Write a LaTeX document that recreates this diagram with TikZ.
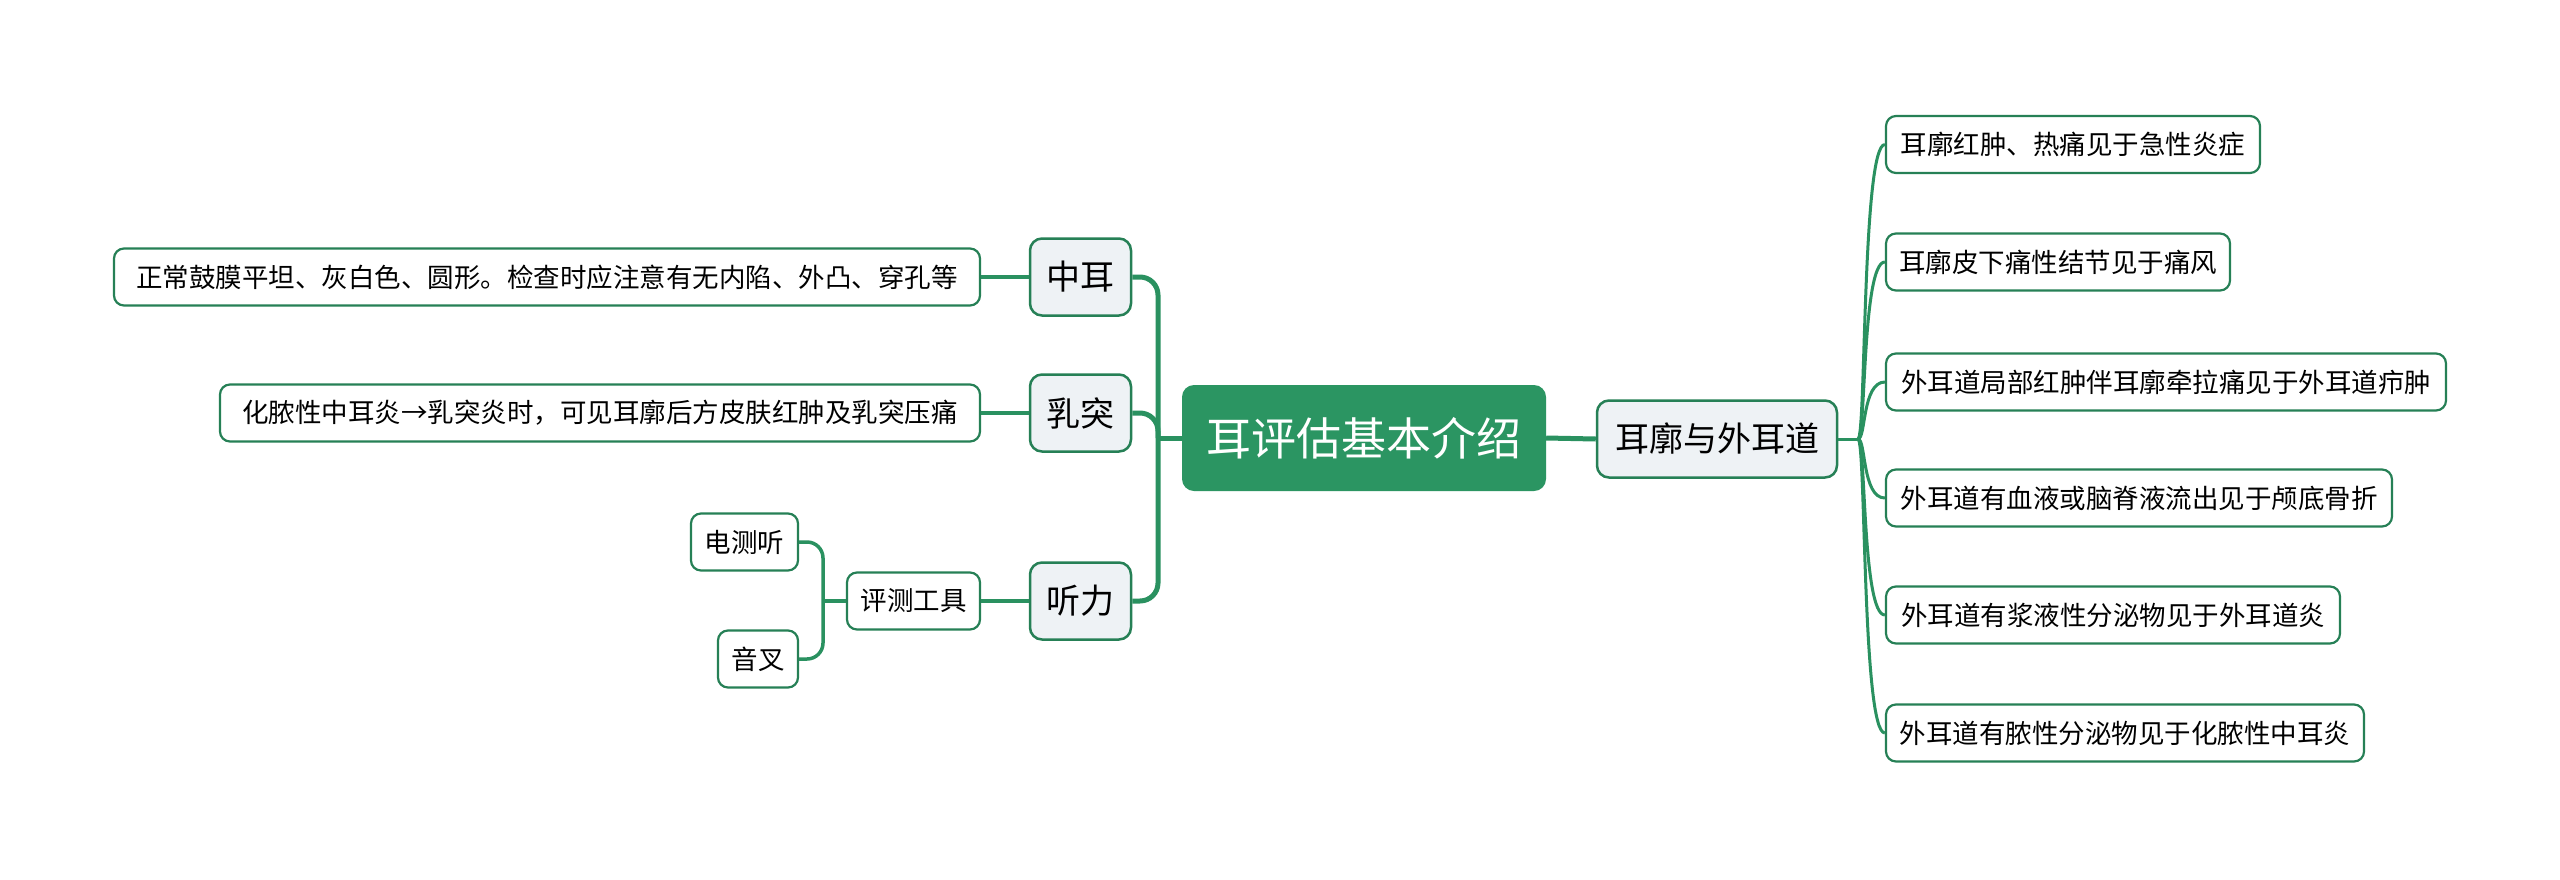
\documentclass[tikz,border=0pt]{standalone}
\usepackage{fontspec}
\usetikzlibrary{calc}
\setmainfont{Noto Sans CJK SC}
\definecolor{rootgreen}{RGB}{43,149,98}
\definecolor{bordergreen}{RGB}{38,128,86}
\definecolor{linegreen}{RGB}{42,145,96}
\definecolor{lonefill}{RGB}{238,242,245}
\begin{document}
\begin{tikzpicture}[x=1pt,y=-1pt,
  rootbox/.style={fill=rootgreen,draw=none,rounded corners=12,text=white,inner sep=0,
    font=\fontsize{45}{52}\selectfont,minimum width=364,minimum height=106},
  lonebox/.style={fill=lonefill,draw=bordergreen,line width=2.5,rounded corners=12,inner sep=0,
    font=\fontsize{34}{40}\selectfont,minimum height=77},
  leafbox/.style={fill=white,draw=bordergreen,line width=2.2,rounded corners=10,inner sep=0,
    font=\fontsize{26.5}{32}\selectfont,minimum height=57},
  trunk/.style={draw=linegreen,line width=5,rounded corners=18},
  twig/.style={draw=linegreen,line width=3.5,rounded corners=16},
  curvy/.style={draw=linegreen,line width=3}]
\useasboundingbox (0,0) rectangle (2560,879);
\fill[white] (0,0) rectangle (2560,879);

% root
\node[rootbox] (root) at (1364,438) {耳评估基本介绍};

% right branch
\node[lonebox,minimum width=240] (ear) at (1717,439) {耳廓与外耳道};
\node[leafbox,minimum width=374] (r1) at (2073,144.5) {耳廓红肿、热痛见于急性炎症};
\node[leafbox,minimum width=344] (r2) at (2058,262) {耳廓皮下痛性结节见于痛风};
\node[leafbox,minimum width=560] (r3) at (2166,382) {外耳道局部红肿伴耳廓牵拉痛见于外耳道疖肿};
\node[leafbox,minimum width=506] (r4) at (2139,498) {外耳道有血液或脑脊液流出见于颅底骨折};
\node[leafbox,minimum width=454] (r5) at (2113,615) {外耳道有浆液性分泌物见于外耳道炎};
\node[leafbox,minimum width=478] (r6) at (2125,733) {外耳道有脓性分泌物见于化脓性中耳炎};

% left branch
\node[lonebox,minimum width=101] (mid) at (1080.5,277) {中耳};
\node[lonebox,minimum width=101] (mast) at (1080.5,413) {乳突};
\node[lonebox,minimum width=101] (hear) at (1080.5,601) {听力};
\node[leafbox,minimum width=866] (l1) at (547,277) {正常鼓膜平坦、灰白色、圆形。检查时应注意有无内陷、外凸、穿孔等};
\node[leafbox,minimum width=760] (l2) at (600,413) {化脓性中耳炎→乳突炎时，可见耳廓后方皮肤红肿及乳突压痛};
\node[leafbox,minimum width=133] (tool) at (913.5,601) {评测工具};
\node[leafbox,minimum width=107] (elec) at (744.5,542) {电测听};
\node[leafbox,minimum width=80] (fork) at (758,659) {音叉};

\coordinate (J) at (1858,439);
\coordinate (LT) at (1158,438);
\coordinate (TT) at (823,601);

% root connectors
\draw[trunk] (root.east) -- (ear.west);
\draw[trunk] (root.west) -- (LT);
\draw[trunk] (mid.east) -- (LT |- mid.east) -- (LT |- hear.east) -- (hear.east);
\draw[trunk] (mast.east) -- (LT |- mast.east) -- (LT);

% right connectors
\draw[curvy] (ear.east) -- (J);
\foreach \n in {r1,r2,r3,r4,r5,r6}{
  \draw[curvy] (J) .. controls ($(J)+(8,0)$) and ($(J |- \n.west)+(4,0)$) .. (\n.west);
}

% left connectors
\draw[twig] (mid.west) -- (l1.east);
\draw[twig] (mast.west) -- (l2.east);
\draw[twig] (hear.west) -- (tool.east);
\draw[twig] (tool.west) -- (TT);
\draw[twig] (elec.east) -- (TT |- elec.east) -- (TT |- fork.east) -- (fork.east);
\end{tikzpicture}
\end{document}
